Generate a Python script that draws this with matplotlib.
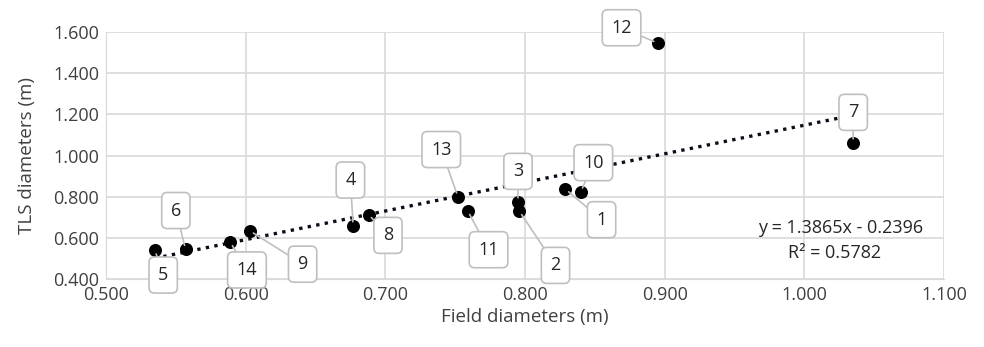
import numpy as np
import matplotlib.pyplot as plt

plt.rcParams['font.family'] = ['Open Sans', 'DejaVu Sans']

# tree ids and measured diameters
tree_ids = [1, 2, 3, 4, 5, 6, 7, 8, 9, 10, 11, 12, 13, 14]
field_d = [0.829, 0.796, 0.795, 0.677, 0.535, 0.557, 1.035, 0.688, 0.603, 0.840, 0.759, 0.895, 0.752, 0.589]
tls_d = [0.837, 0.730, 0.775, 0.659, 0.542, 0.545, 1.061, 0.714, 0.635, 0.824, 0.732, 1.545, 0.800, 0.580]

# trendline (as reported)
slope = 1.3865
intercept = -0.2396
r2 = 0.5782

# label offsets in points (dx, dy)
offsets = {
    1: (26, -22), 2: (26, -39), 3: (0, 22), 4: (-2, 33), 5: (6, -18),
    6: (-7, 28), 7: (0, 22), 8: (14, -15), 9: (38, -24), 10: (9, 21),
    11: (15, -28), 12: (-26, 11), 13: (-12, 34), 14: (12, -20),
}

fig = plt.figure(figsize=(9.84, 3.47), dpi=100)
ax = fig.add_axes([0.1077, 0.195, 0.8516, 0.7137])

grid_c = '#D9D9D9'
ax.set_xlim(0.5, 1.1)
ax.set_ylim(0.4, 1.6)
ax.set_xticks(np.arange(0.5, 1.1001, 0.1))
ax.set_yticks(np.arange(0.4, 1.6001, 0.2))
ax.set_xticklabels(['%.3f' % v for v in np.arange(0.5, 1.1001, 0.1)])
ax.set_yticklabels(['%.3f' % v for v in np.arange(0.4, 1.6001, 0.2)])
ax.grid(True, color=grid_c, lw=1.2)
ax.set_axisbelow(True)
for s in ax.spines.values():
    s.set_visible(False)
ax.spines['bottom'].set_visible(True)
ax.spines['bottom'].set_color(grid_c)
ax.spines['left'].set_visible(True)
ax.spines['left'].set_color(grid_c)
ax.tick_params(length=0, labelsize=13, colors='#404040', pad=5)

ax.scatter(field_d, tls_d, s=70, color='black', zorder=3)

xs = np.array([min(field_d), max(field_d)])
ax.plot(xs, slope * xs + intercept, color='#0D0D1A', ls=(0, (1, 1.6)), lw=2.4, zorder=2)

for tid, x, y in zip(tree_ids, field_d, tls_d):
    dx, dy = offsets[tid]
    ax.annotate(str(tid), (x, y), xytext=(dx, dy), textcoords='offset points',
                ha='center', va='center', fontsize=13, color='#262626', zorder=4,
                bbox=dict(boxstyle='round,pad=0.5,rounding_size=0.3', fc='white', ec='#BFBFBF', lw=1.2),
                arrowprops=dict(arrowstyle='-', color='#BFBFBF', lw=1.2, shrinkA=0, shrinkB=3))

ax.text(1.085, 0.648, 'y = 1.3865x - 0.2396', ha='right', va='center', fontsize=13, color='#262626')
ax.text(1.022, 0.527, 'R² = %.4f' % r2, ha='center', va='center', fontsize=13, color='#262626')

ax.set_xlabel('Field diameters (m)', fontsize=13.5, color='#404040', labelpad=3)
ax.set_ylabel('TLS diameters (m)', fontsize=13.5, color='#404040', labelpad=12)

fig.savefig('out.png', dpi=100)
